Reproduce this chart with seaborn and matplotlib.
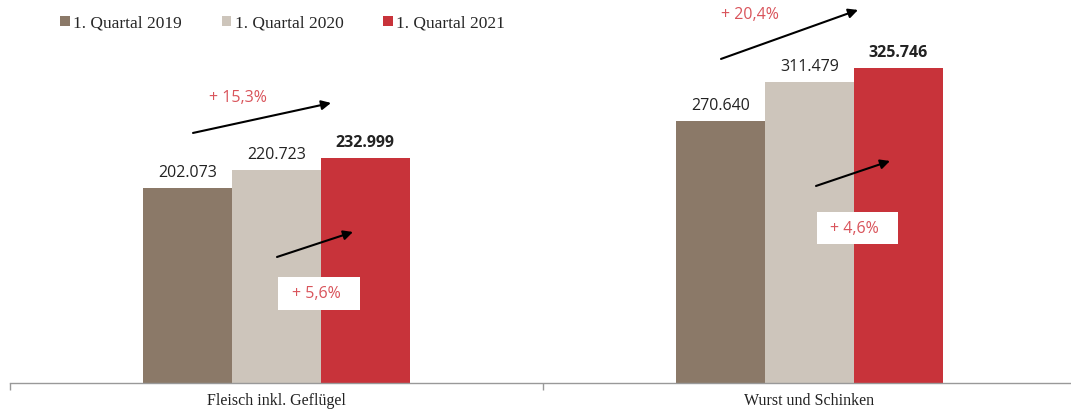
import matplotlib
matplotlib.use("Agg")
import matplotlib.pyplot as plt
from matplotlib.patches import Rectangle
import seaborn as sns
import pandas as pd

# ---- data ----
categories = ["Fleisch inkl. Geflügel", "Wurst und Schinken"]
years = ["1. Quartal 2019", "1. Quartal 2020", "1. Quartal 2021"]
values_2019 = [202073, 270640]
values_2020 = [220723, 311479]
values_2021 = [232999, 325746]
change_3y = ["+ 15,3%", "+ 20,4%"]
change_1y = ["+ 5,6%", "+ 4,6%"]

colors = ["#8b7968", "#cdc5bb", "#c8333a"]
red_text = "#d9545b"

rows = []
for yr, vals in zip(years, [values_2019, values_2020, values_2021]):
    for c, v in zip(categories, vals):
        rows.append({"Kategorie": c, "Jahr": yr, "Wert": v})
df = pd.DataFrame(rows)

sns.set_theme(style="white")
plt.rcParams["font.family"] = ["DejaVu Sans"]

W, H = 1071, 416
fig = plt.figure(figsize=(W / 100, H / 100), dpi=100)
ax = fig.add_axes([10 / W, 33 / H, 1066 / W, 383 / H])

sns.barplot(data=df, x="Kategorie", y="Wert", hue="Jahr", palette=colors,
            width=0.5, saturation=1, ax=ax, legend=True, linewidth=0)

ax.set_xlim(-0.5, 1.5)
ax.set_ylim(0, 396000)

# value labels
for i, cont in enumerate(ax.containers):
    labs = [f"{int(b.get_height()):,}".replace(",", ".") for b in cont]
    txts = ax.bar_label(cont, labels=labs, padding=5, fontsize=11.5,
                        family="Open Sans", color="#222222")
    if i == 2:
        for t in txts:
            t.set_fontweight("bold")

# axis styling
for s in ["top", "right", "left"]:
    ax.spines[s].set_visible(False)
ax.spines["bottom"].set_color("#999999")
ax.spines["bottom"].set_linewidth(1.0)
ax.set_yticks([])
ax.set_xlabel("")
ax.set_ylabel("")
ax.set_xticks([0, 1])
ax.set_xticklabels(categories, family="Liberation Serif", fontsize=11.5, color="#222222")
ax.tick_params(axis="x", which="major", length=0, pad=7, bottom=True)
ax.set_xticks([-0.5, 0.5, 1.5], minor=True)
ax.tick_params(axis="x", which="minor", length=5, direction="out", color="#999999",
               width=1, bottom=True)

# helper: pixel -> data
def px2data(px, py):
    return (-0.5 + (px - 10) / 533.0, (383 - py) / 0.000967)

arrow_kw = dict(arrowstyle="-|>", color="black", lw=1.5, mutation_scale=14,
                shrinkA=0, shrinkB=0)

# 3-year change arrows + text
arrows_3y = [((193, 133), (331, 103)), ((721, 59), (858, 10))]
text_3y = [(238, 98), (750, 15)]
for (s, e), (tx, ty), lab in zip(arrows_3y, text_3y, change_3y):
    ax.annotate("", xy=px2data(*e), xytext=px2data(*s), arrowprops=arrow_kw)
    ax.text(*px2data(tx, ty), lab, ha="center", va="center", color=red_text,
            fontsize=11.5, family="Open Sans")

# 1-year change arrows + boxed text
arrows_1y = [((277, 257), (353, 232)), ((816, 186), (890, 161))]
box_1y = [(278, 277, 360, 310), (817, 212, 898, 244)]
for (s, e), (x0, y0, x1, y1), lab in zip(arrows_1y, box_1y, change_1y):
    ax.annotate("", xy=px2data(*e), xytext=px2data(*s), arrowprops=arrow_kw)
    dx0, dy1 = px2data(x0, y1)
    dx1, dy0 = px2data(x1, y0)
    ax.add_patch(Rectangle((dx0, dy1), dx1 - dx0, dy0 - dy1, facecolor="white",
                           edgecolor="none", zorder=5))
    cx, cy = px2data((x0 + x1) / 2 - 3, (y0 + y1) / 2 + 1)
    ax.text(cx, cy, lab, ha="center", va="center", color=red_text, fontsize=11.5,
            family="Open Sans", zorder=6)

# legend
handles, labels = ax.get_legend_handles_labels()
ax.get_legend().remove()
fig.legend(handles, labels, loc="center left", bbox_to_anchor=(60 / W, 1 - 23 / H),
           ncol=3, frameon=False, prop={"family": "Liberation Serif", "size": 12.5},
           handlelength=0.55, handleheight=0.55, handletextpad=0.2,
           columnspacing=2.3, borderpad=0, borderaxespad=0)

fig.savefig("out.png", dpi=100)
